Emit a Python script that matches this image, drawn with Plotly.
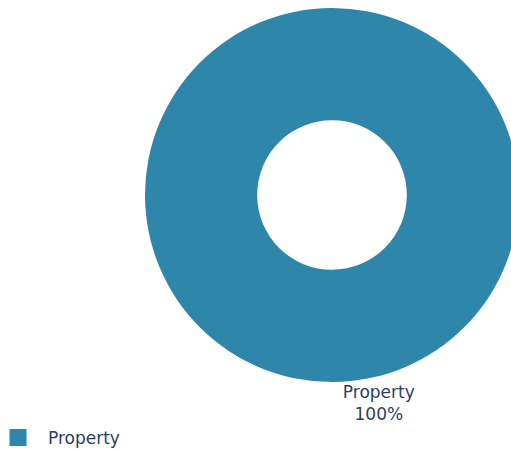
import plotly.graph_objects as go

labels = ["Property"]
values = [100]
colors = ["#2E86AB"]

W, H = 530, 460
PLOT_H = 374
fig = go.Figure(go.Pie(
    labels=labels,
    values=values,
    hole=0.4,
    marker=dict(colors=colors),
    textinfo="label+percent",
    textposition="outside",
    rotation=-0.1,
    sort=False,
    domain=dict(x=[137 / W, 511 / W], y=[0, 1]),
))
fig.update_layout(
    width=W, height=H,
    font=dict(family="DejaVu Sans", size=17, color="#2a3f5f"),
    margin=dict(l=0, r=0, t=0, b=H - PLOT_H, autoexpand=False),
    legend=dict(orientation="h", x=0, xanchor="left",
                y=(PLOT_H - 430) / PLOT_H, yanchor="middle", itemwidth=30),
    paper_bgcolor="white",
)
post = """
var gd = document.getElementById('{plot_id}');
document.body.style.margin = '8px 0 0 8px';
document.documentElement.style.overflow = 'hidden';
document.body.style.overflow = 'hidden';
gd.parentElement.style.width = '503px';
gd.parentElement.style.height = '443px';
gd.parentElement.style.overflow = 'hidden';
document.querySelectorAll('.legendpoints path').forEach(function(p){
  p.setAttribute('transform', (p.getAttribute('transform') || '') + ' translate(-10,0) scale(1.42)');
});
"""
fig.write_html("out.html", post_script=post)
